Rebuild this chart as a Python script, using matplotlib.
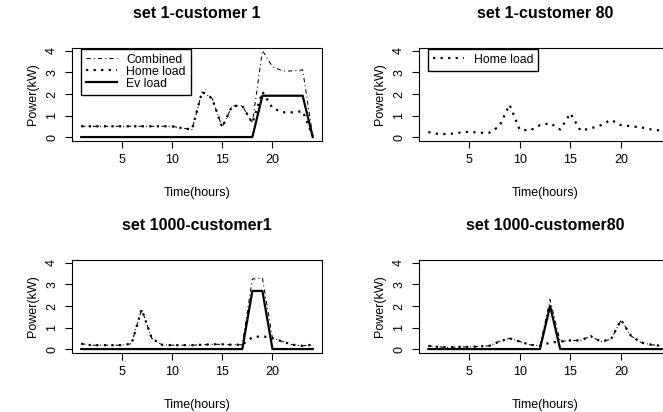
"""Power profiles for EV / home load, 2x2 panels in the style of base R plots."""

import matplotlib
matplotlib.use("Agg")
import matplotlib.pyplot as plt

plt.rcParams["font.family"] = ["Liberation Sans", "DejaVu Sans"]

W, H = 663, 412

HOURS = list(range(1, 25))

# set 1 - customer 1
S1C1_HOME = [0.5, 0.5, 0.5, 0.5, 0.5, 0.5, 0.5, 0.5, 0.5, 0.5, 0.42, 0.35,
             2.1, 1.8, 0.45, 1.45, 1.45, 0.65, 2.1, 1.35, 1.15, 1.15, 1.2, 0.05]
S1C1_EV = [0, 0, 0, 0, 0, 0, 0, 0, 0, 0, 0, 0,
           0, 0, 0, 0, 0, 0, 1.92, 1.92, 1.92, 1.92, 1.92, 0]

# set 1 - customer 80 (home load only)
S1C80_HOME = [0.23, 0.14, 0.14, 0.2, 0.25, 0.2, 0.2, 0.5, 1.5, 0.35, 0.3, 0.55,
              0.65, 0.35, 1.1, 0.3, 0.4, 0.55, 0.8, 0.55, 0.5, 0.45, 0.35, 0.3]

# set 1000 - customer 1
S1000C1_HOME = [0.25, 0.18, 0.18, 0.18, 0.18, 0.25, 1.85, 0.5, 0.2, 0.18, 0.18, 0.18,
                0.2, 0.22, 0.22, 0.2, 0.2, 0.55, 0.6, 0.5, 0.35, 0.2, 0.15, 0.2]
S1000C1_EV = [0, 0, 0, 0, 0, 0, 0, 0, 0, 0, 0, 0,
              0, 0, 0, 0, 0, 2.7, 2.7, 0, 0, 0, 0, 0]

# set 1000 - customer 80
S1000C80_HOME = [0.15, 0.1, 0.08, 0.1, 0.1, 0.12, 0.15, 0.35, 0.5, 0.35, 0.2, 0.15,
                 0.3, 0.35, 0.4, 0.4, 0.6, 0.35, 0.45, 1.35, 0.6, 0.3, 0.2, 0.15]
S1000C80_EV = [0, 0, 0, 0, 0, 0, 0, 0, 0, 0, 0, 0,
               2.0, 0, 0, 0, 0, 0, 0, 0, 0, 0, 0, 0]

TITLES = ["set 1-customer 1", "set 1-customer 80", "set 1000-customer1", "set 1000-customer80"]

DOTDASH = (0, (4, 3, 1, 3))
DOTTED = (0, (1, 2.4))


def _axes(fig, left, top, width, height):
    return fig.add_axes([left / W, (H - top - height) / H, width / W, height / H])


def _style(ax, title):
    ax.set_xlim(0.08, 24.92)
    ax.set_ylim(-0.16, 4.16)
    ax.set_xticks([5, 10, 15, 20])
    ax.set_yticks([0, 1, 2, 3, 4])
    ax.tick_params(length=5, width=0.8, labelsize=9, pad=5)
    for lab in ax.get_yticklabels():
        lab.set_rotation(90)
        lab.set_va("center")
    for sp in ax.spines.values():
        sp.set_linewidth(0.8)
    ax.set_title(title, fontsize=11.5, fontweight="bold", pad=21)
    ax.set_xlabel("Time(hours)", fontsize=9)
    ax.xaxis.set_label_coords(0.5, -0.5)
    ax.set_ylabel("Power(kW)", fontsize=9)
    ax.yaxis.set_label_coords(-0.13, 0.5)


def _legend(ax, handles):
    ax.legend(handles=handles, loc="upper left", bbox_to_anchor=(1, 4.1),
              bbox_transform=ax.transData, borderaxespad=0, fancybox=False,
              edgecolor="black", framealpha=1, fontsize=8.8, handlelength=2.5,
              handletextpad=0.8, labelspacing=0.0, borderpad=0.4)


def _combined(home, ev):
    return [h + e for h, e in zip(home, ev)]


fig = plt.figure(figsize=(W / 100, H / 100), dpi=100)

ax1 = _axes(fig, 72, 47.5, 250, 93)
ax2 = _axes(fig, 419, 47.5, 252, 93)
ax3 = _axes(fig, 72, 259.5, 250, 93)
ax4 = _axes(fig, 419, 259.5, 252, 93)

# panel 1
c, = ax1.plot(HOURS, _combined(S1C1_HOME, S1C1_EV), color="black", lw=0.75, ls=DOTDASH, label="Combined")
h, = ax1.plot(HOURS, S1C1_HOME, color="black", lw=1.6, ls=DOTTED, label="Home load")
e, = ax1.plot(HOURS, S1C1_EV, color="black", lw=1.6, label="Ev load")
_legend(ax1, [c, h, e])

# panel 2
h2, = ax2.plot(HOURS, S1C80_HOME, color="black", lw=1.6, ls=DOTTED, label="Home load")
_legend(ax2, [h2])

# panel 3
ax3.plot(HOURS, _combined(S1000C1_HOME, S1000C1_EV), color="black", lw=0.75, ls=DOTDASH)
ax3.plot(HOURS, S1000C1_HOME, color="black", lw=1.6, ls=DOTTED)
ax3.plot(HOURS, S1000C1_EV, color="black", lw=1.6)

# panel 4
ax4.plot(HOURS, _combined(S1000C80_HOME, S1000C80_EV), color="black", lw=0.75, ls=DOTDASH)
ax4.plot(HOURS, S1000C80_HOME, color="black", lw=1.6, ls=DOTTED)
ax4.plot(HOURS, S1000C80_EV, color="black", lw=1.6)

for ax, t in zip([ax1, ax2, ax3, ax4], TITLES):
    _style(ax, t)

fig.savefig("out.png", dpi=100)
